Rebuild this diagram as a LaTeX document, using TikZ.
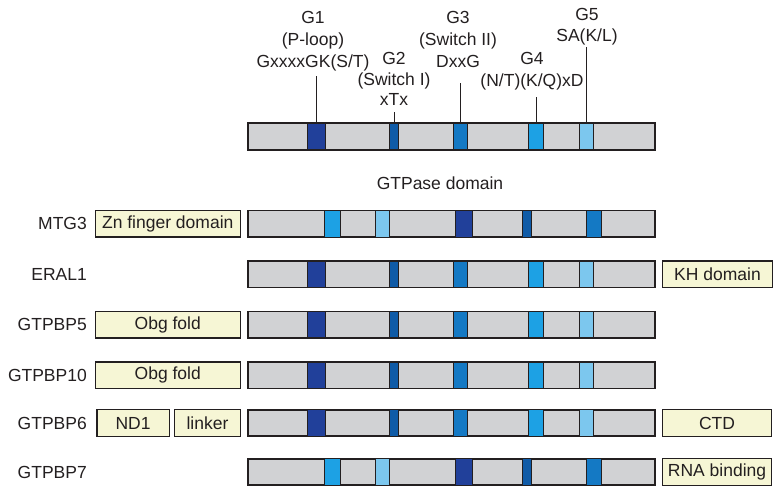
\documentclass[tikz,border=0pt]{standalone}
\usepackage{fontspec}
\setmainfont{Liberation Sans}
\usetikzlibrary{positioning}

\definecolor{edge}{HTML}{231F20}
\definecolor{bargray}{HTML}{D1D2D4}
\definecolor{dombg}{HTML}{F6F6D5}
\definecolor{motifA}{HTML}{21409A}
\definecolor{motifB}{HTML}{0F5BA7}
\definecolor{motifC}{HTML}{1479C4}
\definecolor{motifD}{HTML}{1DA1E4}
\definecolor{motifE}{HTML}{7CC7EE}

% motif positions: number/left/right/colour
\newcommand{\stdsegs}{1/307/326/motifA, 2/389/399/motifB, 3/453/468/motifC, 4/528/544/motifD, 5/579/594/motifE}
\newcommand{\permsegs}{4/324/341/motifD, 5/375/390/motifE, 1/455/473/motifA, 2/522/532/motifB, 3/586/602/motifC}

\begin{document}
\begin{tikzpicture}[x=1pt, y=-1pt, node distance=6pt, text=edge,
  every node/.style={font=\fontsize{17.5}{22}\selectfont},
  bar/.style={rectangle, draw=edge, line width=1.6pt, fill=bargray, minimum width=407.5pt, minimum height=26.5pt, inner sep=0},
  seg/.style={rectangle, draw=edge, line width=1.1pt, minimum height=26.5pt, inner sep=0},
  dom/.style={rectangle, draw=edge, line width=1.4pt, fill=dombg, minimum height=26.5pt, inner sep=0},
  gene/.style={anchor=east, inner sep=0},
  motif/.style={align=center, anchor=south, inner xsep=0}]
\useasboundingbox (0,0) rectangle (775,490);

% consensus domain
\node[bar] (top) at (451.5,136.5) {};
\foreach \n/\a/\b/\c in \stdsegs
  \node[seg, fill=\c, minimum width={\b-\a-1}] (top-\n) at ({(\a+\b)/2},136.5) {};

\node[motif, inner ysep=5pt] (G1) at (313,76) {G1\\(P-loop)\\GxxxxGK(S/T)};
\node[motif, inner ysep=6pt, font=\fontsize{17.5}{20.5}\selectfont] (G2) at (394,112) {G2\\(Switch I)\\xTx};
\node[motif, inner ysep=15pt] (G3) at (458,83) {G3\\(Switch II)\\DxxG};
\node[motif, inner ysep=7pt] (G4) at (532,97) {G4\\(N/T)(K/Q)xD};
\node[motif, inner ysep=2pt, font=\fontsize{17.5}{20.5}\selectfont] (G5) at (587,47) {G5\\SA(K/L)};
\foreach \n in {1,...,5}
  \draw[line width=1pt, edge] (top-\n.north) -- (top-\n.north |- G\n.south);

\node (gtpase) at (440,183) {GTPase domain};

% proteins
\foreach \g/\y in {ERAL1/274.2, GTPBP5/324.7, GTPBP10/375.2, GTPBP6/423} {
  \node[bar] (\g) at (451.5,\y) {};
  \foreach \n/\a/\b/\c in \stdsegs
    \node[seg, fill=\c, minimum width={\b-\a-1}] (\g-\n) at ({(\a+\b)/2},\y) {};
  \node[gene] (\g-name) at (87,\y) {\g};
}
\foreach \g/\y in {MTG3/223.8, GTPBP7/472} {
  \node[bar] (\g) at (451.5,\y) {};
  \foreach \n/\a/\b/\c in \permsegs
    \node[seg, fill=\c, minimum width={\b-\a-1}] (\g-\n) at ({(\a+\b)/2},\y) {};
  \node[gene] (\g-name) at (87,\y) {\g};
}

% extra domains
\node[dom, minimum width=145pt, left=of MTG3] (zn) {Zn finger domain};
\node[dom, minimum width=109.5pt, right=of ERAL1] (kh) {KH domain};
\node[dom, minimum width=145pt, left=of GTPBP5] (obg5) {Obg fold};
\node[dom, minimum width=145pt, left=of GTPBP10] (obg10) {Obg fold};
\node[dom, minimum width=65.5pt, left=of GTPBP6] (linker) {linker};
\node[dom, minimum width=72.5pt, left=4pt of linker] (nd1) {ND1};
\node[dom, minimum width=108.5pt, right=of GTPBP6] (ctd) {CTD};
\node[dom, minimum width=108.5pt, right=of GTPBP7] (rna) {RNA binding};
\end{tikzpicture}
\end{document}
